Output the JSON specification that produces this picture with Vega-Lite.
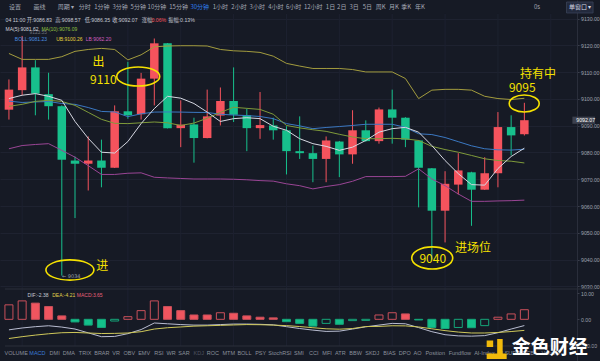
{
"$schema": "https://vega.github.io/schema/vega-lite/v6.json",
"width": 600, "height": 361,
"autosize": {"type": "fit", "contains": "padding"},
"padding": 0,
"background": "#161a25",
"config": {"view": {"stroke": null}},
"resolve": {"scale": {"y": "independent"}},
"datasets": {
"k": [
{"i":0,"open":9096.0,"high":9107.3,"low":9092.3,"close":9103.5,"ma5":9100.15,"ma10":9097.25,"boll":9099.2,"ub":9117.0,"lb":9081.4},
{"i":1,"open":9103.3,"high":9123.55,"low":9101.4,"close":9111.8,"ma5":9101.4,"ma10":9098.0,"boll":9098.7,"ub":9114.8,"lb":9082.6},
{"i":2,"open":9111.8,"high":9114.5,"low":9093.9,"close":9102.0,"ma5":9102.0,"ma10":9099.1,"boll":9098.9,"ub":9114.8,"lb":9083.0},
{"i":3,"open":9101.8,"high":9109.8,"low":9092.3,"close":9097.3,"ma5":9101.0,"ma10":9099.5,"boll":9099.05,"ub":9114.8,"lb":9083.3},
{"i":4,"open":9097.3,"high":9097.6,"low":9034.0,"close":9077.3,"ma5":9099.5,"ma10":9099.1,"boll":9098.3,"ub":9115.8,"lb":9080.8},
{"i":5,"open":9077.0,"high":9078.5,"low":9055.5,"close":9075.8,"ma5":9091.6,"ma10":9097.6,"boll":9098.0,"ub":9117.8,"lb":9078.25},
{"i":6,"open":9075.8,"high":9086.0,"low":9065.8,"close":9077.0,"ma5":9085.3,"ma10":9095.0,"boll":9096.8,"ub":9118.5,"lb":9075.1},
{"i":7,"open":9077.0,"high":9084.8,"low":9067.0,"close":9074.3,"ma5":9080.1,"ma10":9092.4,"boll":9095.35,"ub":9118.9,"lb":9071.8},
{"i":8,"open":9074.3,"high":9097.6,"low":9074.2,"close":9095.4,"ma5":9079.8,"ma10":9090.9,"boll":9095.15,"ub":9118.5,"lb":9071.8},
{"i":9,"open":9095.4,"high":9113.9,"low":9092.6,"close":9093.9,"ma5":9084.1,"ma10":9090.8,"boll":9093.4,"ub":9114.6,"lb":9072.25},
{"i":10,"open":9094.3,"high":9109.75,"low":9092.3,"close":9107.6,"ma5":9090.8,"ma10":9091.1,"boll":9094.45,"ub":9116.5,"lb":9072.4},
{"i":11,"open":9107.6,"high":9122.6,"low":9097.6,"close":9120.8,"ma5":9096.4,"ma10":9091.4,"boll":9095.1,"ub":9119.5,"lb":9070.75},
{"i":12,"open":9120.8,"high":9120.9,"low":9089.0,"close":9089.1,"ma5":9101.0,"ma10":9091.1,"boll":9095.15,"ub":9119.8,"lb":9070.5},
{"i":13,"open":9089.1,"high":9099.5,"low":9082.0,"close":9090.4,"ma5":9100.3,"ma10":9090.1,"boll":9095.1,"ub":9119.9,"lb":9070.3},
{"i":14,"open":9090.5,"high":9093.0,"low":9076.2,"close":9085.4,"ma5":9098.3,"ma10":9091.0,"boll":9095.0,"ub":9119.9,"lb":9070.1},
{"i":15,"open":9085.4,"high":9103.5,"low":9085.3,"close":9093.5,"ma5":9095.1,"ma10":9092.8,"boll":9094.95,"ub":9119.8,"lb":9070.1},
{"i":16,"open":9093.8,"high":9104.3,"low":9090.1,"close":9099.25,"ma5":9091.6,"ma10":9095.0,"boll":9094.3,"ub":9118.5,"lb":9070.1},
{"i":17,"open":9099.25,"high":9111.8,"low":9091.4,"close":9094.1,"ma5":9092.65,"ma10":9096.9,"boll":9094.0,"ub":9118.0,"lb":9070.0},
{"i":18,"open":9093.9,"high":9096.4,"low":9080.5,"close":9089.1,"ma5":9093.0,"ma10":9096.5,"boll":9093.8,"ub":9117.8,"lb":9069.8},
{"i":19,"open":9089.1,"high":9102.6,"low":9085.1,"close":9090.25,"ma5":9092.65,"ma10":9096.1,"boll":9093.45,"ub":9117.4,"lb":9069.5},
{"i":20,"open":9090.1,"high":9093.0,"low":9084.8,"close":9088.3,"ma5":9089.8,"ma10":9094.3,"boll":9092.65,"ub":9116.0,"lb":9069.3},
{"i":21,"open":9088.3,"high":9089.8,"low":9071.8,"close":9080.5,"ma5":9088.3,"ma10":9090.1,"boll":9090.8,"ub":9113.3,"lb":9068.3},
{"i":22,"open":9080.5,"high":9093.5,"low":9077.6,"close":9079.75,"ma5":9085.15,"ma10":9089.2,"boll":9089.95,"ub":9112.3,"lb":9067.6},
{"i":23,"open":9079.75,"high":9082.6,"low":9068.9,"close":9077.6,"ma5":9083.3,"ma10":9088.5,"boll":9088.9,"ub":9111.4,"lb":9066.4},
{"i":24,"open":9077.6,"high":9086.0,"low":9068.9,"close":9084.5,"ma5":9082.3,"ma10":9087.9,"boll":9089.35,"ub":9111.4,"lb":9067.3},
{"i":25,"open":9084.1,"high":9084.3,"low":9070.8,"close":9079.3,"ma5":9080.8,"ma10":9086.8,"boll":9089.7,"ub":9111.4,"lb":9068.0},
{"i":26,"open":9079.3,"high":9095.8,"low":9075.8,"close":9088.3,"ma5":9082.0,"ma10":9085.8,"boll":9090.1,"ub":9111.0,"lb":9069.25},
{"i":27,"open":9088.3,"high":9092.0,"low":9084.0,"close":9084.25,"ma5":9084.5,"ma10":9085.15,"boll":9090.55,"ub":9110.1,"lb":9071.0},
{"i":28,"open":9084.25,"high":9096.8,"low":9083.3,"close":9096.1,"ma5":9087.6,"ma10":9085.15,"boll":9090.55,"ub":9110.1,"lb":9071.0},
{"i":29,"open":9096.1,"high":9103.5,"low":9083.3,"close":9093.0,"ma5":9088.9,"ma10":9085.3,"boll":9090.55,"ub":9110.1,"lb":9071.0},
{"i":30,"open":9093.0,"high":9093.2,"low":9082.0,"close":9084.8,"ma5":9089.4,"ma10":9085.1,"boll":9089.4,"ub":9107.65,"lb":9071.1},
{"i":31,"open":9084.5,"high":9084.6,"low":9059.5,"close":9074.3,"ma5":9087.6,"ma10":9084.5,"boll":9087.0,"ub":9100.15,"lb":9073.9},
{"i":32,"open":9074.1,"high":9074.2,"low":9040.0,"close":9058.25,"ma5":9082.6,"ma10":9082.3,"boll":9086.7,"ub":9103.3,"lb":9070.1},
{"i":33,"open":9058.25,"high":9073.0,"low":9046.4,"close":9068.3,"ma5":9077.0,"ma10":9081.1,"boll":9085.6,"ub":9103.6,"lb":9067.6},
{"i":34,"open":9068.0,"high":9079.75,"low":9064.3,"close":9073.3,"ma5":9072.1,"ma10":9080.1,"boll":9084.05,"ub":9103.6,"lb":9064.5},
{"i":35,"open":9072.6,"high":9072.8,"low":9052.6,"close":9066.1,"ma5":9068.0,"ma10":9078.9,"boll":9082.5,"ub":9103.3,"lb":9061.75},
{"i":36,"open":9066.1,"high":9078.25,"low":9066.0,"close":9072.25,"ma5":9067.8,"ma10":9077.65,"boll":9081.4,"ub":9101.0,"lb":9061.75},
{"i":37,"open":9072.25,"high":9095.1,"low":9067.0,"close":9089.5,"ma5":9074.0,"ma10":9077.0,"boll":9081.0,"ub":9100.15,"lb":9061.9},
{"i":38,"open":9089.5,"high":9093.9,"low":9078.9,"close":9086.4,"ma5":9078.5,"ma10":9076.75,"boll":9080.9,"ub":9099.8,"lb":9062.0},
{"i":39,"open":9086.83,"high":9098.57,"low":9086.35,"close":9092.07,"ma5":9081.62,"ma10":9076.09,"boll":9081.23,"ub":9100.26,"lb":9062.2}
],
"macd": [
{"i":0,"hist":5.5,"dif":-4.0,"dea":-7.3},{"i":1,"hist":7.0,"dif":-3.3,"dea":-6.6},{"i":2,"hist":6.15,"dif":-2.8,"dea":-6.0},
{"i":3,"hist":4.85,"dif":-2.45,"dea":-5.5},{"i":4,"hist":1.3,"dif":-2.95,"dea":-5.1},{"i":5,"hist":-1.0,"dif":-3.7,"dea":-5.0},
{"i":6,"hist":-2.2,"dif":-5.15,"dea":-5.2},{"i":7,"hist":-3.1,"dif":-6.6,"dea":-5.4},{"i":8,"hist":-0.65,"dif":-6.5,"dea":-5.35},
{"i":9,"hist":1.0,"dif":-5.45,"dea":-5.2},{"i":10,"hist":3.3,"dif":-3.9,"dea":-4.7},{"i":11,"hist":7.0,"dif":-1.4,"dea":-3.7},
{"i":12,"hist":4.85,"dif":-1.7,"dea":-3.2},{"i":13,"hist":3.3,"dif":-2.0,"dea":-2.9},{"i":14,"hist":1.65,"dif":-2.2,"dea":-2.6},
{"i":15,"hist":1.65,"dif":-2.2,"dea":-2.45},{"i":16,"hist":2.5,"dif":-2.0,"dea":-2.3},{"i":17,"hist":2.3,"dif":-1.8,"dea":-2.15},
{"i":18,"hist":1.3,"dif":-1.8,"dea":-2.0},{"i":19,"hist":0.8,"dif":-1.9,"dea":-2.05},{"i":20,"hist":0.55,"dif":-2.1,"dea":-2.2},
{"i":21,"hist":-0.9,"dif":-2.8,"dea":-2.4},{"i":22,"hist":-1.55,"dif":-3.5,"dea":-2.75},{"i":23,"hist":-2.6,"dif":-4.1,"dea":-3.2},
{"i":24,"hist":-1.55,"dif":-4.6,"dea":-3.6},{"i":25,"hist":-1.9,"dif":-4.5,"dea":-3.75},{"i":26,"hist":-0.5,"dif":-3.7,"dea":-3.5},
{"i":27,"hist":-0.4,"dif":-2.85,"dea":-2.75},{"i":28,"hist":1.65,"dif":-2.2,"dea":-2.7},{"i":29,"hist":2.5,"dif":-1.55,"dea":-2.45},
{"i":30,"hist":2.05,"dif":-1.7,"dea":-2.5},{"i":31,"hist":-0.25,"dif":-3.15,"dea":-2.9},{"i":32,"hist":-3.1,"dif":-4.7,"dea":-3.6},
{"i":33,"hist":-3.5,"dif":-5.85,"dea":-4.3},{"i":34,"hist":-3.1,"dif":-6.3,"dea":-4.85},{"i":35,"hist":-3.2,"dif":-6.4,"dea":-5.2},
{"i":36,"hist":-2.4,"dif":-6.2,"dea":-5.2},{"i":37,"hist":0.8,"dif":-5.1,"dea":-5.0},{"i":38,"hist":2.05,"dif":-3.7,"dea":-4.65},
{"i":39,"hist":3.65,"dif":-2.38,"dea":-4.21}
],
"vgrid": [{"i":1},{"i":5},{"i":9},{"i":13},{"i":17},{"i":21},{"i":25},{"i":29},{"i":33},{"i":37},{"i":41}],
"tb": [
{"t":"设置","pos":0.45},{"t":"画线","pos":2.307},{"t":"周期 ▾","pos":4.315},{"t":"分时","pos":5.729},{"t":"1分钟","pos":7.031},
{"t":"3分钟","pos":8.408},{"t":"5分钟","pos":9.784},{"t":"10分钟","pos":11.198},{"t":"15分钟","pos":12.835},{"t":"30分钟","pos":14.435},
{"t":"1小时","pos":15.997},{"t":"2小时","pos":17.411},{"t":"3小时","pos":18.787},{"t":"4小时","pos":20.201},{"t":"6小时","pos":21.54},
{"t":"12小时","pos":23.028},{"t":"1日","pos":24.33},{"t":"2日","pos":25.186},{"t":"3日","pos":26.116},{"t":"5日","pos":27.121},
{"t":"周K","pos":28.125},{"t":"月K","pos":29.129},{"t":"季K","pos":30.06},{"t":"年K","pos":31.101},{"t":"0s","pos":39.955},
{"t":"单窗口 ▾","pos":43.229}
],
"tabs": [
{"t":"VOLUME","pos":0.55},{"t":"MACD","pos":2.158},{"t":"DMI","pos":3.46},{"t":"DMA","pos":4.539},{"t":"TRIX","pos":5.766},
{"t":"BRAR","pos":7.031},{"t":"VR","pos":8.11},{"t":"OBV","pos":9.115},{"t":"EMV","pos":10.231},{"t":"RSI","pos":11.347},
{"t":"WR","pos":12.277},{"t":"SAR","pos":13.244},{"t":"KDJ","pos":14.36},{"t":"ROC","pos":15.439},{"t":"MTM","pos":16.629},
{"t":"BOLL","pos":17.82},{"t":"PSY","pos":19.048},{"t":"StochRSI","pos":20.499},{"t":"SMI","pos":21.949},{"t":"CCI","pos":23.065},
{"t":"MFI","pos":24.07},{"t":"ATR","pos":25.074},{"t":"BBW","pos":26.228},{"t":"SKDJ","pos":27.493},{"t":"BIAS","pos":28.795},
{"t":"DPO","pos":29.948},{"t":"AO","pos":30.915},{"t":"Position","pos":32.254},{"t":"Fundflow","pos":34.115},{"t":"AI-Index","pos":35.975},
{"t":"LSUR","pos":37.835},{"t":"BRCB","pos":39.137},{"t":"Volume","pos":40.997}
]
},
"layer": [
{"data":{"name":"vgrid"},"mark":{"type":"rule","color":"#1d2130","strokeWidth":1},
 "encoding":{"x":{"field":"i","type":"quantitative","scale":{"domain":[-0.2976,44.345],"nice":false,"zero":false},"axis":null},
 "y":{"datum":9131.76,"type":"quantitative","scale":{"domain":[9002.085,9136.988],"nice":false,"zero":false},"axis":null},"y2":{"datum":9007.69}}},
{"data":{"values":[{}]},"mark":{"type":"rule","color":"#2a2e3b","strokeWidth":1},
 "encoding":{"x":{"datum":-0.2976,"type":"quantitative","scale":{"domain":[-0.2976,44.345],"nice":false,"zero":false},"axis":null},"x2":{"datum":44.345},
 "y":{"datum":9028.99,"type":"quantitative","scale":{"domain":[9002.085,9136.988],"nice":false,"zero":false},"axis":null}}},
{"data":{"values":[{}]},"mark":{"type":"rule","color":"#2a2e3b","strokeWidth":1},
 "encoding":{"x":{"datum":-0.2976,"type":"quantitative","scale":{"domain":[-0.2976,44.345],"nice":false,"zero":false},"axis":null},"x2":{"datum":44.345},
 "y":{"datum":9007.69,"type":"quantitative","scale":{"domain":[9002.085,9136.988],"nice":false,"zero":false},"axis":null}}},
{"data":{"name":"k"},"mark":{"type":"rule","strokeWidth":1},
 "encoding":{"x":{"field":"i","type":"quantitative","scale":{"domain":[-0.2976,44.345],"nice":false,"zero":false},"axis":null},
 "y":{"field":"low","type":"quantitative","scale":{"domain":[9002.085,9136.988],"nice":false,"zero":false},
  "axis":{"orient":"right","offset":-23,"values":[9030,9040,9050,9060,9070,9080,9090,9100,9110,9120,9130],"format":".2f","title":null,
   "grid":true,"gridColor":"#1e2230","gridWidth":1,"domain":true,"domainColor":"#2a2e3b","ticks":true,"tickSize":2,"tickColor":"#3a3e4b",
   "labelPadding":1.5,"labelFontSize":5.2,"labelFont":"Liberation Sans","labelColor":"#9da1ad"}},
 "y2":{"field":"high"},
 "color":{"condition":{"test":"datum.close >= datum.open","value":"#f5535d"},"value":"#17c08c"}}},
{"data":{"name":"k"},"mark":{"type":"bar","size":8.5},
 "encoding":{"x":{"field":"i","type":"quantitative","scale":{"domain":[-0.2976,44.345],"nice":false,"zero":false},"axis":null},
 "y":{"field":"open","type":"quantitative","scale":{"domain":[9002.085,9136.988],"nice":false,"zero":false},"axis":null},
 "y2":{"field":"close"},
 "color":{"condition":{"test":"datum.close >= datum.open","value":"#f5535d"},"value":"#17c08c"}}},
{"data":{"name":"k"},"mark":{"type":"line","color":"#a39c3e","strokeWidth":1},
 "encoding":{"x":{"field":"i","type":"quantitative","scale":{"domain":[-0.2976,44.345],"nice":false,"zero":false},"axis":null},
 "y":{"field":"ub","type":"quantitative","scale":{"domain":[9002.085,9136.988],"nice":false,"zero":false},"axis":null}}},
{"data":{"name":"k"},"mark":{"type":"line","color":"#9a4595","strokeWidth":1},
 "encoding":{"x":{"field":"i","type":"quantitative","scale":{"domain":[-0.2976,44.345],"nice":false,"zero":false},"axis":null},
 "y":{"field":"lb","type":"quantitative","scale":{"domain":[9002.085,9136.988],"nice":false,"zero":false},"axis":null}}},
{"data":{"name":"k"},"mark":{"type":"line","color":"#3b78c2","strokeWidth":1},
 "encoding":{"x":{"field":"i","type":"quantitative","scale":{"domain":[-0.2976,44.345],"nice":false,"zero":false},"axis":null},
 "y":{"field":"boll","type":"quantitative","scale":{"domain":[9002.085,9136.988],"nice":false,"zero":false},"axis":null}}},
{"data":{"name":"k"},"mark":{"type":"line","color":"#7f9a3a","strokeWidth":1},
 "encoding":{"x":{"field":"i","type":"quantitative","scale":{"domain":[-0.2976,44.345],"nice":false,"zero":false},"axis":null},
 "y":{"field":"ma10","type":"quantitative","scale":{"domain":[9002.085,9136.988],"nice":false,"zero":false},"axis":null}}},
{"data":{"name":"k"},"mark":{"type":"line","color":"#d6d8e2","strokeWidth":1},
 "encoding":{"x":{"field":"i","type":"quantitative","scale":{"domain":[-0.2976,44.345],"nice":false,"zero":false},"axis":null},
 "y":{"field":"ma5","type":"quantitative","scale":{"domain":[9002.085,9136.988],"nice":false,"zero":false},"axis":null}}},
{"data":{"name":"macd"},
 "transform":[{"window":[{"op":"lag","field":"hist","as":"prev"}],"sort":[{"field":"i","order":"ascending"}]}],
 "mark":{"type":"bar","size":8,"strokeWidth":1},
 "encoding":{"x":{"field":"i","type":"quantitative","scale":{"domain":[-0.2976,44.345],"nice":false,"zero":false},"axis":null},
 "y":{"field":"hist","type":"quantitative","scale":{"domain":[-15.85,121.41],"nice":false,"zero":false},
  "axis":{"orient":"right","offset":-23,"values":[10,0,-10],"format":".2f","title":null,"grid":false,"domain":false,"ticks":true,"tickSize":2,"tickColor":"#3a3e4b",
   "labelPadding":1.5,"labelFontSize":5.2,"labelFont":"Liberation Sans","labelColor":"#9da1ad"}},
 "y2":{"datum":0},
 "stroke":{"condition":{"test":"datum.hist >= 0","value":"#c9505b"},"value":"#15a67a"},
 "fill":{"condition":[{"test":"datum.prev == null || datum.hist > datum.prev","value":"#161a25"},{"test":"datum.hist >= 0","value":"#f0555f"}],"value":"#14c08a"}}},
{"data":{"name":"macd"},"mark":{"type":"line","color":"#b9bdd1","strokeWidth":1},
 "encoding":{"x":{"field":"i","type":"quantitative","scale":{"domain":[-0.2976,44.345],"nice":false,"zero":false},"axis":null},
 "y":{"field":"dif","type":"quantitative","scale":{"domain":[-15.85,121.41],"nice":false,"zero":false},"axis":null}}},
{"data":{"name":"macd"},"mark":{"type":"line","color":"#cfc85a","strokeWidth":1},
 "encoding":{"x":{"field":"i","type":"quantitative","scale":{"domain":[-0.2976,44.345],"nice":false,"zero":false},"axis":null},
 "y":{"field":"dea","type":"quantitative","scale":{"domain":[-15.85,121.41],"nice":false,"zero":false},"axis":null}}},
{"data":{"values":[{}]},"mark":{"type":"rect","color":"#3d414e"},
 "encoding":{"x":{"datum":42.634,"type":"quantitative","scale":{"domain":[-0.2976,44.345],"nice":false,"zero":false},"axis":null},"x2":{"datum":44.345},
 "y":{"datum":9093.4,"type":"quantitative","scale":{"domain":[9002.085,9136.988],"nice":false,"zero":false},"axis":null},"y2":{"datum":9090.74}}},
{"data":{"values":[{"t":"9092.07"}]},"mark":{"type":"text","align":"left","baseline":"middle","fontSize":5.2,"font":"Liberation Sans","color":"#ffffff"},
 "encoding":{"x":{"datum":42.93,"type":"quantitative","scale":{"domain":[-0.2976,44.345],"nice":false,"zero":false},"axis":null},
 "y":{"datum":9092.07,"type":"quantitative","scale":{"domain":[9002.085,9136.988],"nice":false,"zero":false},"axis":null},"text":{"field":"t"}}},
{"data":{"values":[{}]},"mark":{"type":"rect","color":"#232a3d","stroke":"#3a4258","strokeWidth":0.8},
 "encoding":{"x":{"datum":42.19,"type":"quantitative","scale":{"domain":[-0.2976,44.345],"nice":false,"zero":false},"axis":null},"x2":{"datum":44.2},
 "y":{"datum":9136.24,"type":"quantitative","scale":{"domain":[9002.085,9136.988],"nice":false,"zero":false},"axis":null},"y2":{"datum":9132.13}}},
{"data":{"name":"tb"},"mark":{"type":"text","align":"center","baseline":"middle","fontSize":6,"font":"Noto Sans CJK SC"},
 "encoding":{"x":{"field":"pos","type":"quantitative","scale":{"domain":[-0.2976,44.345],"nice":false,"zero":false},"axis":null},
 "y":{"datum":9134.3,"type":"quantitative","scale":{"domain":[9002.085,9136.988],"nice":false,"zero":false},"axis":null},
 "text":{"field":"t"},
 "color":{"condition":[{"test":"datum.t === '30分钟'","value":"#2f7ff0"},{"test":"datum.t === '单窗口 ▾'","value":"#d5d9e3"}],"value":"#a3a7b3"}}},
{"data":{"values":[{"t":"04 11:00","pos":-0.26},{"t":"开:9086.83","pos":1.339},{"t":"高:9098.57","pos":3.497},{"t":"低:9086.35","pos":5.729},{"t":"收:9092.07","pos":7.813},{"t":"涨幅:","pos":10.045},{"t":"0.06%","pos":10.789},{"t":"振幅:0.13%","pos":12.054}]},
 "mark":{"type":"text","align":"left","baseline":"middle","fontSize":5.2,"font":"Liberation Sans, Noto Sans CJK SC"},
 "encoding":{"x":{"field":"pos","type":"quantitative","scale":{"domain":[-0.2976,44.345],"nice":false,"zero":false},"axis":null},
 "y":{"datum":9129.33,"type":"quantitative","scale":{"domain":[9002.085,9136.988],"nice":false,"zero":false},"axis":null},
 "text":{"field":"t"},
 "color":{"condition":{"test":"datum.t === '0.06%'","value":"#f5535d"},"value":"#c5c9d3"}}},
{"data":{"values":[{"t":"9123.55","pos":1.5625}]},"mark":{"type":"text","align":"left","baseline":"middle","fontSize":4.8,"font":"Liberation Sans","color":"#6f737e"},
 "encoding":{"x":{"field":"pos","type":"quantitative","scale":{"domain":[-0.2976,44.345],"nice":false,"zero":false},"axis":null},
 "y":{"datum":9124.75,"type":"quantitative","scale":{"domain":[9002.085,9136.988],"nice":false,"zero":false},"axis":null},"text":{"field":"t"}}},
{"data":{"values":[{"t":"MA(5):9081.62","pos":-0.26,"k":"MA5"},{"t":"MA(10):9076.09","pos":2.455,"k":"MA10"}]},
 "mark":{"type":"text","align":"left","baseline":"middle","fontSize":5,"font":"Liberation Sans"},
 "encoding":{"x":{"field":"pos","type":"quantitative","scale":{"domain":[-0.2976,44.345],"nice":false,"zero":false},"axis":null},
 "y":{"datum":9126.15,"type":"quantitative","scale":{"domain":[9002.085,9136.988],"nice":false,"zero":false},"axis":null},
 "text":{"field":"t"},
 "color":{"field":"k","type":"nominal","legend":null,"scale":{"domain":["MA5","MA10","BOLL","UB","LB","DIF","DEA","MACD"],"range":["#d0d3dc","#8fc040","#4a8fe0","#e6d23c","#d35fc0","#c8ccd6","#e0d24a","#e8607a"]}}}},
{"data":{"values":[{"t":"BOLL:9081.23","pos":0.446,"k":"BOLL"},{"t":"UB:9100.26","pos":3.571,"k":"UB"},{"t":"LB:9062.20","pos":5.804,"k":"LB"}]},
 "mark":{"type":"text","align":"left","baseline":"middle","fontSize":5,"font":"Liberation Sans"},
 "encoding":{"x":{"field":"pos","type":"quantitative","scale":{"domain":[-0.2976,44.345],"nice":false,"zero":false},"axis":null},
 "y":{"datum":9122.6,"type":"quantitative","scale":{"domain":[9002.085,9136.988],"nice":false,"zero":false},"axis":null},
 "text":{"field":"t"},
 "color":{"field":"k","type":"nominal","legend":null,"scale":{"domain":["MA5","MA10","BOLL","UB","LB","DIF","DEA","MACD"],"range":["#d0d3dc","#8fc040","#4a8fe0","#e6d23c","#d35fc0","#c8ccd6","#e0d24a","#e8607a"]}}}},
{"data":{"values":[{"t":"DIF:-2.38","pos":1.414,"k":"DIF"},{"t":"DEA:-4.21","pos":3.274,"k":"DEA"},{"t":"MACD:3.65","pos":5.134,"k":"MACD"}]},
 "mark":{"type":"text","align":"left","baseline":"middle","fontSize":5,"font":"Liberation Sans"},
 "encoding":{"x":{"field":"pos","type":"quantitative","scale":{"domain":[-0.2976,44.345],"nice":false,"zero":false},"axis":null},
 "y":{"datum":9026.75,"type":"quantitative","scale":{"domain":[9002.085,9136.988],"nice":false,"zero":false},"axis":null},
 "text":{"field":"t"},
 "color":{"field":"k","type":"nominal","legend":null,"scale":{"domain":["MA5","MA10","BOLL","UB","LB","DIF","DEA","MACD"],"range":["#d0d3dc","#8fc040","#4a8fe0","#e6d23c","#d35fc0","#c8ccd6","#e0d24a","#e8607a"]}}}},
{"data":{"name":"tabs"},"mark":{"type":"text","align":"center","baseline":"middle","fontSize":5.5,"font":"Liberation Sans"},
 "encoding":{"x":{"field":"pos","type":"quantitative","scale":{"domain":[-0.2976,44.345],"nice":false,"zero":false},"axis":null},
 "y":{"datum":9005.19,"type":"quantitative","scale":{"domain":[9002.085,9136.988],"nice":false,"zero":false},"axis":null},
 "text":{"field":"t"},
 "color":{"condition":[{"test":"datum.t === 'MACD'","value":"#3a7bd5"},{"test":"datum.t === 'KDJ'","value":"#4e5360"}],"value":"#8b909c"}}},
{"data":{"values":[{"t":"出","pos":6.771,"p":9113.82},{"t":"9110","pos":7.143,"p":9107.09},{"t":"进","pos":7.068,"p":9037.59},{"t":"9040","pos":32.068,"p":9040.2},{"t":"进场位","pos":35.119,"p":9044.31},{"t":"持有中","pos":40.03,"p":9109.34},{"t":"9095","pos":38.839,"p":9103.92}]},
 "mark":{"type":"text","align":"center","baseline":"middle","fontSize":12,"font":"Noto Sans CJK SC","color":"#f5e100"},
 "encoding":{"x":{"field":"pos","type":"quantitative","scale":{"domain":[-0.2976,44.345],"nice":false,"zero":false},"axis":null},
 "y":{"field":"p","type":"quantitative","scale":{"domain":[9002.085,9136.988],"nice":false,"zero":false},"axis":null},"text":{"field":"t"}}},
{"data":{"values":[{"t":"← 9034","pos":4.018,"p":9033.85}]},
 "mark":{"type":"text","align":"left","baseline":"middle","fontSize":5,"font":"DejaVu Sans","color":"#9aa0ad"},
 "encoding":{"x":{"field":"pos","type":"quantitative","scale":{"domain":[-0.2976,44.345],"nice":false,"zero":false},"axis":null},
 "y":{"field":"p","type":"quantitative","scale":{"domain":[9002.085,9136.988],"nice":false,"zero":false},"axis":null},"text":{"field":"t"}}},
{"data":{"values":[{"pos":9.784,"p":9108.4}]},
 "mark":{"type":"point","filled":false,"color":"#f5e100","strokeWidth":1.6,"opacity":1,"size":1849,"shape":"M-1,0A1,0.44,0,1,1,1,0A1,0.44,0,1,1,-1,0Z"},
 "encoding":{"x":{"field":"pos","type":"quantitative","scale":{"domain":[-0.2976,44.345],"nice":false,"zero":false},"axis":null},
 "y":{"field":"p","type":"quantitative","scale":{"domain":[9002.085,9136.988],"nice":false,"zero":false},"axis":null}}},
{"data":{"values":[{"pos":4.613,"p":9036.09}]},
 "mark":{"type":"point","filled":false,"color":"#f5e100","strokeWidth":1.6,"opacity":1,"size":2304,"shape":"M-1,0A1,0.42,0,1,1,1,0A1,0.42,0,1,1,-1,0Z"},
 "encoding":{"x":{"field":"pos","type":"quantitative","scale":{"domain":[-0.2976,44.345],"nice":false,"zero":false},"axis":null},
 "y":{"field":"p","type":"quantitative","scale":{"domain":[9002.085,9136.988],"nice":false,"zero":false},"axis":null}}},
{"data":{"values":[{"pos":32.03,"p":9040.58}]},
 "mark":{"type":"point","filled":false,"color":"#f5e100","strokeWidth":1.6,"opacity":1,"size":1681,"shape":"M-1,0A1,0.54,0,1,1,1,0A1,0.54,0,1,1,-1,0Z"},
 "encoding":{"x":{"field":"pos","type":"quantitative","scale":{"domain":[-0.2976,44.345],"nice":false,"zero":false},"axis":null},
 "y":{"field":"p","type":"quantitative","scale":{"domain":[9002.085,9136.988],"nice":false,"zero":false},"axis":null}}},
{"data":{"values":[{"pos":38.988,"p":9098.31}]},
 "mark":{"type":"point","filled":false,"color":"#f5e100","strokeWidth":1.6,"opacity":1,"size":900,"shape":"M-1,0A1,0.57,0,1,1,1,0A1,0.57,0,1,1,-1,0Z"},
 "encoding":{"x":{"field":"pos","type":"quantitative","scale":{"domain":[-0.2976,44.345],"nice":false,"zero":false},"axis":null},
 "y":{"field":"p","type":"quantitative","scale":{"domain":[9002.085,9136.988],"nice":false,"zero":false},"axis":null}}},
{"data":{"values":[{"pos":36.905,"p":9006.57}]},
 "mark":{"type":"point","filled":true,"color":"#f0b90b","opacity":1,"size":400,"shape":"M-1,-0.85H-0.35V-0.2H-1Z M0.05,-1H0.6V0.45H1V1H-1V0.45H0.05Z"},
 "encoding":{"x":{"field":"pos","type":"quantitative","scale":{"domain":[-0.2976,44.345],"nice":false,"zero":false},"axis":null},
 "y":{"field":"p","type":"quantitative","scale":{"domain":[9002.085,9136.988],"nice":false,"zero":false},"axis":null}}},
{"data":{"values":[{"t":"金色财经","pos":40.92,"p":9006.94}]},
 "mark":{"type":"text","align":"center","baseline":"middle","fontSize":19,"fontWeight":"bold","font":"Noto Sans CJK SC","color":"#ffffff"},
 "encoding":{"x":{"field":"pos","type":"quantitative","scale":{"domain":[-0.2976,44.345],"nice":false,"zero":false},"axis":null},
 "y":{"field":"p","type":"quantitative","scale":{"domain":[9002.085,9136.988],"nice":false,"zero":false},"axis":null},"text":{"field":"t"}}}
]
}
